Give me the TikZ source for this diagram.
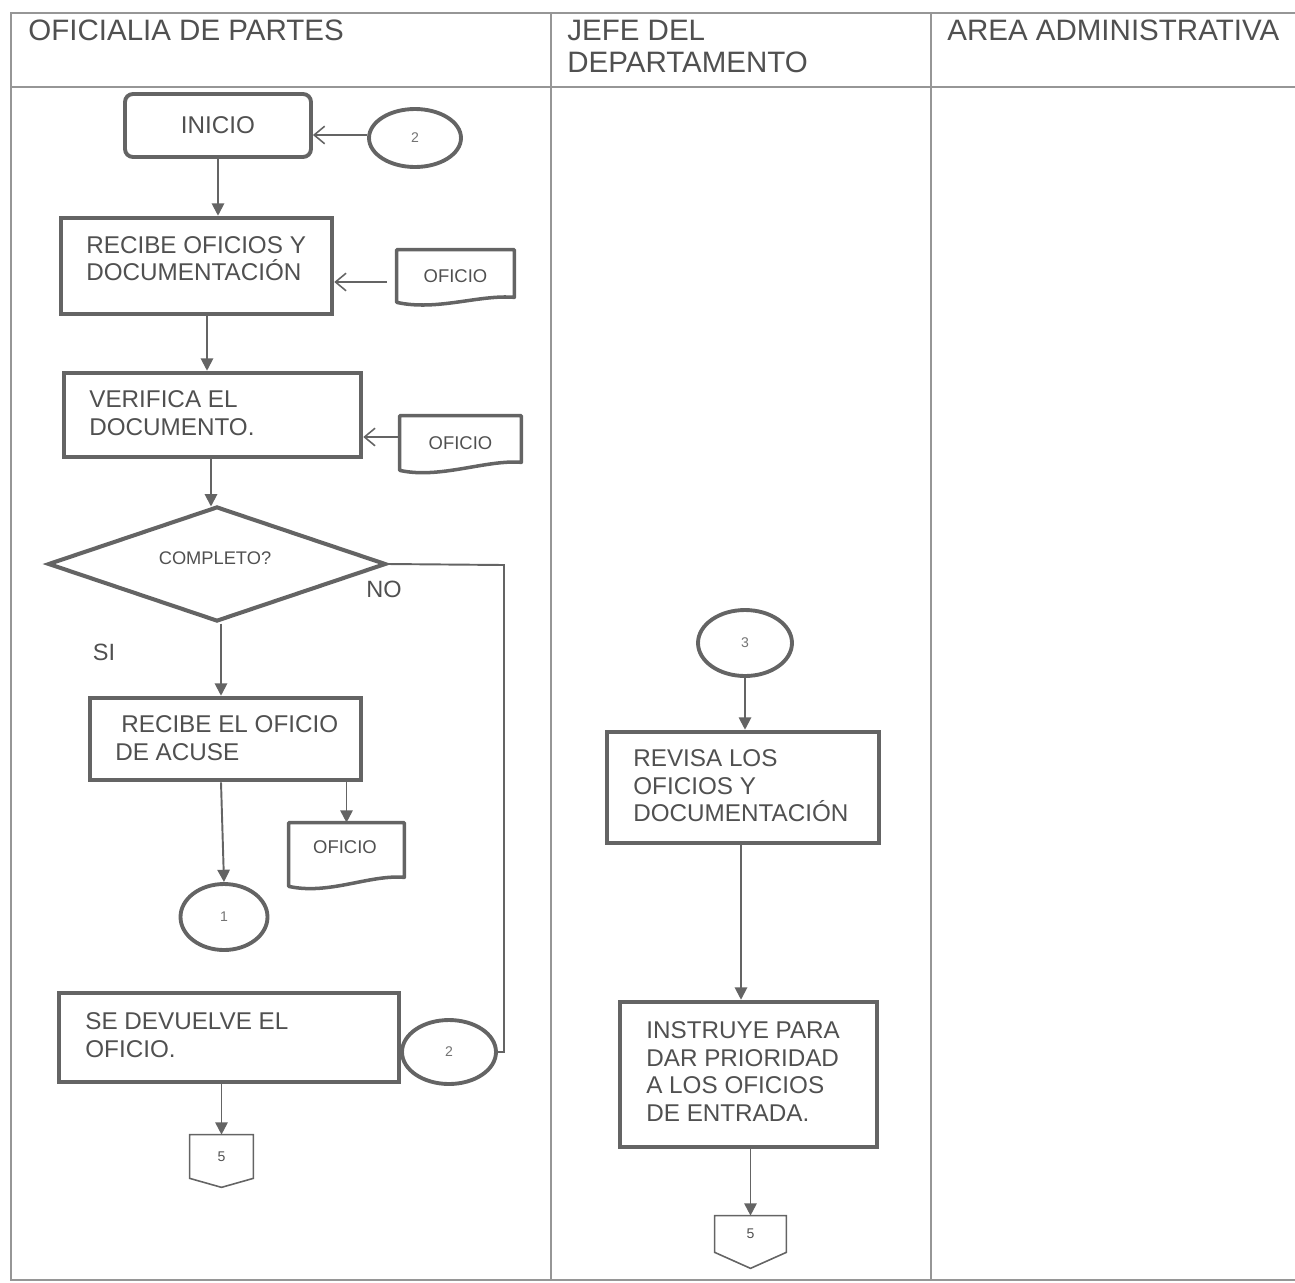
\documentclass[tikz,border=0pt]{standalone}
\usepackage{fontspec}
\setmainfont{Liberation Sans}
\usetikzlibrary{shapes.geometric,arrows.meta,calc}
\definecolor{lnC}{RGB}{100,100,100}
\definecolor{txC}{RGB}{80,80,80}
\definecolor{tbC}{RGB}{150,150,150}
\begin{document}
\begin{tikzpicture}[x=0.02cm,y=-0.02cm,
  tbl/.style={draw=tbC,line width=0.8pt},
  hdr/.style={anchor=west,inner sep=0pt,text=txC,font=\fontsize{16.8}{18.2}\selectfont,align=left},
  proc/.style={draw=lnC,line width=2.6pt,inner sep=0pt},
  txt/.style={anchor=west,inner sep=0pt,text=txC,font=\fontsize{13.8}{15.6}\selectfont,align=left},
  lbl/.style={inner sep=0pt,text=txC,font=\fontsize{13.4}{15}\selectfont},
  docnode/.style={draw=none,inner sep=0pt,text=txC,font=\fontsize{10.5}{12}\selectfont},
  docl/.style={draw=lnC,line width=2pt,line join=round},
  conn/.style={ellipse,draw=lnC,line width=2.2pt,inner sep=0pt,text=txC!80,font=\fontsize{8}{9}\selectfont},
  pentnode/.style={draw=none,inner sep=0pt,text=txC,font=\fontsize{8}{9}\selectfont},
  pentl/.style={draw=lnC,line width=0.9pt},
  arr/.style={draw=lnC,line width=1.1pt,-{Triangle[length=7pt,width=7pt]}},
  oarr/.style={draw=lnC,line width=0.9pt,-{Straight Barb[length=6pt,width=10pt]}},
  ln/.style={draw=lnC,line width=1.1pt}
]
\useasboundingbox (0,0) rectangle (1295,1282);
% table
\draw[tbl] (1295,13) -- (11,13) -- (11,1280) -- (1295,1280);
\draw[tbl] (11,87) -- (1295,87);
\draw[tbl] (551,13) -- (551,1280);
\draw[tbl] (931,13) -- (931,1280);
\node[hdr] (h1) at (28,30) {OFICIALIA DE PARTES};
\node[hdr] (h2) at (567,46) {JEFE DEL\\DEPARTAMENTO};
\node[hdr] (h3) at (947,30) {AREA ADMINISTRATIVA};

% lane 1
\node[draw=lnC,line width=2.2pt,rounded corners=4.5pt,minimum width=3.72cm,minimum height=1.26cm,inner sep=0pt,text=txC,font=\fontsize{13.8}{15.6}\selectfont] (ini) at (218,125.5) {INICIO};
\node[conn,minimum width=1.84cm,minimum height=1.16cm] (e2a) at (415,138) {2};

\node[proc,minimum width=5.42cm,minimum height=1.92cm] (b1) at (196.5,266) {};
\node[txt] (t1) at (86,258.5) {RECIBE OFICIOS Y\\DOCUMENTACIÓN};
\node[docnode,minimum width=2.34cm,minimum height=1.04cm] (d1) at (455.5,276) {OFICIO};

\node[proc,minimum width=5.94cm,minimum height=1.68cm] (b2) at (212.5,415) {};
\node[txt] (t2) at (89,413) {VERIFICA EL\\DOCUMENTO.};
\node[docnode,minimum width=2.42cm,minimum height=1.08cm] (d2) at (460.5,443) {OFICIO};

\node[diamond,draw=lnC,line width=2.3pt,minimum width=6.76cm,minimum height=2.3cm,inner sep=0pt] (dia) at (217,564) {};
\node[inner sep=0pt,text=txC,font=\fontsize{10.4}{12}\selectfont] (tdia) at (215,558) {COMPLETO?};
\node[lbl] (no) at (384,589) {NO};
\node[lbl] (si) at (104,652) {SI};

\node[proc,minimum width=5.42cm,minimum height=1.64cm] (b3) at (225.5,739) {};
\node[txt] (t3) at (115,738) {\hspace*{3.4pt}RECIBE EL OFICIO\\DE ACUSE};
\node[docnode,minimum width=2.3cm,minimum height=1.26cm] (d3) at (346.5,854.5) {};
\node[docnode] (t3d) at (345,847) {OFICIO};

\node[conn,minimum width=1.74cm,minimum height=1.32cm] (e1) at (224,917) {1};

\node[proc,minimum width=6.8cm,minimum height=1.78cm] (b4) at (229,1037.5) {};
\node[txt] (t4) at (85,1035) {SE DEVUELVE EL\\OFICIO.};
\node[conn,minimum width=1.88cm,minimum height=1.28cm] (e2b) at (449,1052) {2};

\node[pentnode,minimum width=1.26cm,minimum height=0.86cm] (p1) at (221.5,1156.5) {5};

% lane 2
\node[conn,minimum width=1.88cm,minimum height=1.32cm] (e3) at (745,643) {3};
\node[proc,minimum width=5.44cm,minimum height=2.22cm] (b5) at (743,787.5) {};
\node[txt] (t5) at (633,786) {REVISA LOS\\OFICIOS Y\\DOCUMENTACIÓN};
\node[proc,minimum width=5.14cm,minimum height=2.9cm] (b6) at (748.5,1074.5) {};
\node[txt] (t6) at (646,1071.5) {INSTRUYE PARA\\DAR PRIORIDAD\\A LOS OFICIOS\\DE ENTRADA.};
\node[pentnode,minimum width=1.42cm,minimum height=0.72cm] (p2) at (750.5,1234) {5};

% document shapes
\foreach \d/\r in {d1/5,d2/8,d3/9}
  \draw[docl] (\d.south west) -- (\d.north west) -- (\d.north east) -- ([shift={(0,-\r)}]\d.south east)
    .. controls ([shift={(-35,-\r-3)}]\d.south east) and ([shift={(40,9)}]\d.south west) .. (\d.south west) -- cycle;
% off-page connectors
\draw[pentl] (p1.north west) -- (p1.north east) -- (p1.south east) -- ([shift={(0,9)}]p1.south) -- (p1.south west) -- cycle;
\draw[pentl] (p2.north west) -- (p2.north east) -- (p2.south east) -- ([shift={(0,16)}]p2.south) -- (p2.south west) -- cycle;

% helper coordinates
\coordinate (x12) at (207,0);
\coordinate (x2d) at (211,0);
\coordinate (xd3) at (221,0);
\coordinate (x56) at (741,0);
\coordinate (y0) at (0,135);
\coordinate (y1) at (0,282);
\coordinate (y2) at (0,437);
\coordinate (cno) at (504,565);

% connectors
\draw[oarr] (e2a.west |- y0) -- (ini.east |- y0);
\draw[arr] (ini.south) -- (ini.south |- b1.north);
\draw[oarr,shorten <=5.5pt] (d1.west |- y1) -- (b1.east |- y1);
\draw[arr] (b1.south -| x12) -- (b2.north -| x12);
\draw[oarr] (d2.west |- y2) -- (b2.east |- y2);
\draw[arr] (b2.south -| x2d) -- ([shift={(0,2)}]dia.north -| x2d);
\draw[arr] (dia.south -| xd3) -- (b3.north -| xd3);
\draw[arr] (b3.south -| xd3) -- (e1.north);
\draw[arr] (b3.south -| d3.north) -- (d3.north);
\draw[ln] (dia.east) -- (cno) |- (e2b.east);
\draw[arr] (b4.south -| p1.north) -- (p1.north);
\draw[arr] (e3.south) -- (e3.south |- b5.north);
\draw[arr] (b5.south -| x56) -- (b6.north -| x56);
\draw[arr] (b6.south -| p2.north) -- (p2.north);
\end{tikzpicture}
\end{document}
